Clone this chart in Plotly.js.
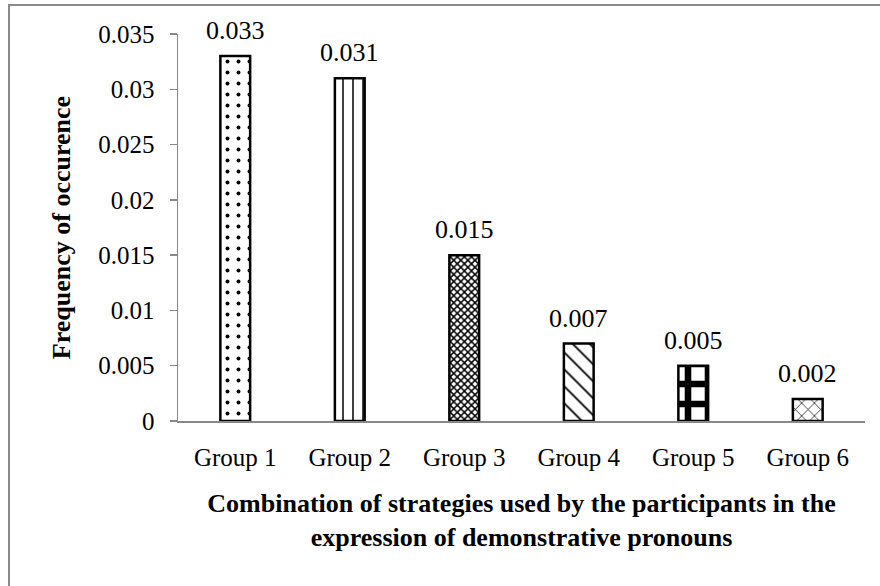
<!DOCTYPE html>
<html>
<head>
<meta charset="utf-8">
<script src="https://cdn.plot.ly/plotly-3.0.1.min.js"></script>
<style>
  html, body { margin: 0; padding: 0; background: #fff; }
  #chart { width: 880px; height: 586px; }
</style>
</head>
<body>
<div id="chart"></div>
<script>
const categories = ["Group 1", "Group 2", "Group 3", "Group 4", "Group 5", "Group 6"];
const frequencies = [0.033, 0.031, 0.015, 0.007, 0.005, 0.002];
const valueLabels = ["0.033", "0.031", "0.015", "0.007", "0.005", "0.002"];
const patternShapes = [".", "|", "x", "\\", "+", "x"];
const patternSizes = [11, 10, 5, 12, 20, 9];
const patternSolidity = [0.1, 0.15, 0.5, 0.15, 0.55, 0.15];

const serif = "Liberation Serif, Times New Roman, serif";

const trace = {
  type: "bar",
  x: categories,
  y: frequencies,
  cliponaxis: false,
  marker: {
    color: "#ffffff",
    line: { color: "#000", width: 2.5 },
    pattern: {
      shape: patternShapes,
      size: patternSizes,
      solidity: patternSolidity,
      fgcolor: "#000",
      fgopacity: 1,
      bgcolor: "#ffffff",
      fillmode: "overlay"
    }
  },
  hoverinfo: "x+y"
};

const annotations = categories.map((c, i) => ({
  x: c,
  y: frequencies[i],
  xref: "x", yref: "y",
  text: valueLabels[i],
  showarrow: false,
  yanchor: "bottom",
  yshift: 9,
  font: { family: serif, size: 26, color: "#000" }
}));

const layout = {
  width: 880,
  height: 586,
  margin: { l: 178, r: 15, t: 34, b: 165 },
  paper_bgcolor: "#fff",
  plot_bgcolor: "#fff",
  bargap: 0.74,
  showlegend: false,
  font: { family: serif, size: 25, color: "#000" },
  annotations: annotations,
  xaxis: {
    type: "category",
    showline: true,
    linecolor: "#888",
    linewidth: 1.5,
    ticks: "",
    showgrid: false,
    zeroline: false,
    tickfont: { family: serif, size: 25, color: "#000" },
    ticklabelstandoff: 13,
    title: {
      text: "<b>Combination of strategies used by the participants in the<br>expression of demonstrative pronouns</b>",
      font: { family: serif, size: 26, color: "#000" },
      standoff: 24
    }
  },
  yaxis: {
    range: [0, 0.035],
    dtick: 0.005,
    tick0: 0,
    showline: true,
    linecolor: "#888",
    linewidth: 1.5,
    ticks: "outside",
    ticklen: 7,
    tickcolor: "#888",
    tickwidth: 1.5,
    showgrid: false,
    zeroline: false,
    tickfont: { family: serif, size: 25, color: "#000" },
    ticklabelstandoff: 10,
    title: {
      text: "<b>Frequency of occurence</b>",
      font: { family: serif, size: 26, color: "#000" },
      standoff: 20
    }
  },
  shapes: [{
    type: "rect",
    xref: "paper", yref: "paper",
    x0: -0.246, x1: 1.04,
    y0: -0.45, y1: 1.075,
    line: { color: "#8a8a8a", width: 2 },
    fillcolor: "rgba(0,0,0,0)",
    layer: "below"
  }]
};

Plotly.newPlot("chart", [trace], layout, { displayModeBar: false, staticPlot: true });
</script>
</body>
</html>
